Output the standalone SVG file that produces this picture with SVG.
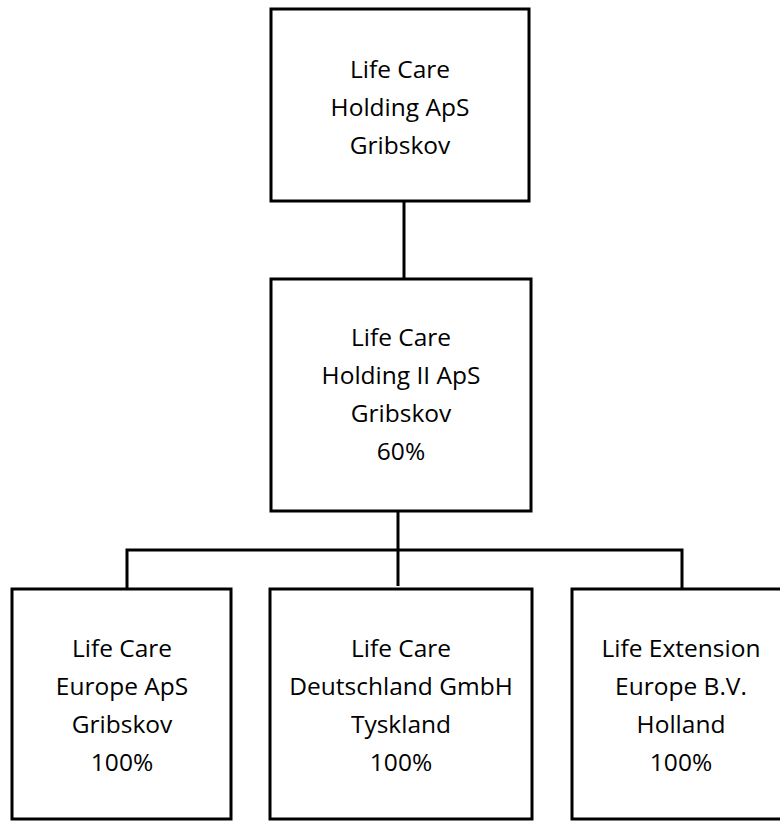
<svg xmlns="http://www.w3.org/2000/svg" width="780" height="821" viewBox="0 0 780 821">
<style>
.box{fill:#fff;stroke:#000;stroke-width:3}
.ln{fill:none;stroke:#000;stroke-width:3}
text{font-family:"Open Sans","Noto Sans",sans-serif;font-size:24.5px;fill:#000;text-anchor:middle}
</style>
<rect width="780" height="821" fill="#fff"/>
<g id="connectors">
<line class="ln" x1="404" y1="201" x2="404" y2="279"/>
<line class="ln" x1="398" y1="511" x2="398" y2="586"/>
<polyline class="ln" points="127,589 127,550 682,550 682,589"/>
</g>
<g id="n1">
<rect class="box" x="271" y="9" width="258" height="192"/>
<text x="400" y="78">Life Care</text>
<text x="400" y="116">Holding ApS</text>
<text x="400" y="154">Gribskov</text>
</g>
<g id="n2">
<rect class="box" x="271" y="279" width="260" height="232"/>
<text x="401" y="346">Life Care</text>
<text x="401" y="384">Holding II ApS</text>
<text x="401" y="422">Gribskov</text>
<text x="401" y="460">60%</text>
</g>
<g id="n3">
<rect class="box" x="12" y="589" width="219" height="230"/>
<text x="122" y="657">Life Care</text>
<text x="122" y="695">Europe ApS</text>
<text x="122" y="733">Gribskov</text>
<text x="122" y="771">100%</text>
</g>
<g id="n4">
<rect class="box" x="270" y="589" width="262" height="230"/>
<text x="401" y="657">Life Care</text>
<text x="401" y="695">Deutschland GmbH</text>
<text x="401" y="733">Tyskland</text>
<text x="401" y="771">100%</text>
</g>
<g id="n5">
<rect class="box" x="572" y="589" width="220" height="230"/>
<text x="681" y="657">Life Extension</text>
<text x="681" y="695">Europe B.V.</text>
<text x="681" y="733">Holland</text>
<text x="681" y="771">100%</text>
</g>
</svg>
